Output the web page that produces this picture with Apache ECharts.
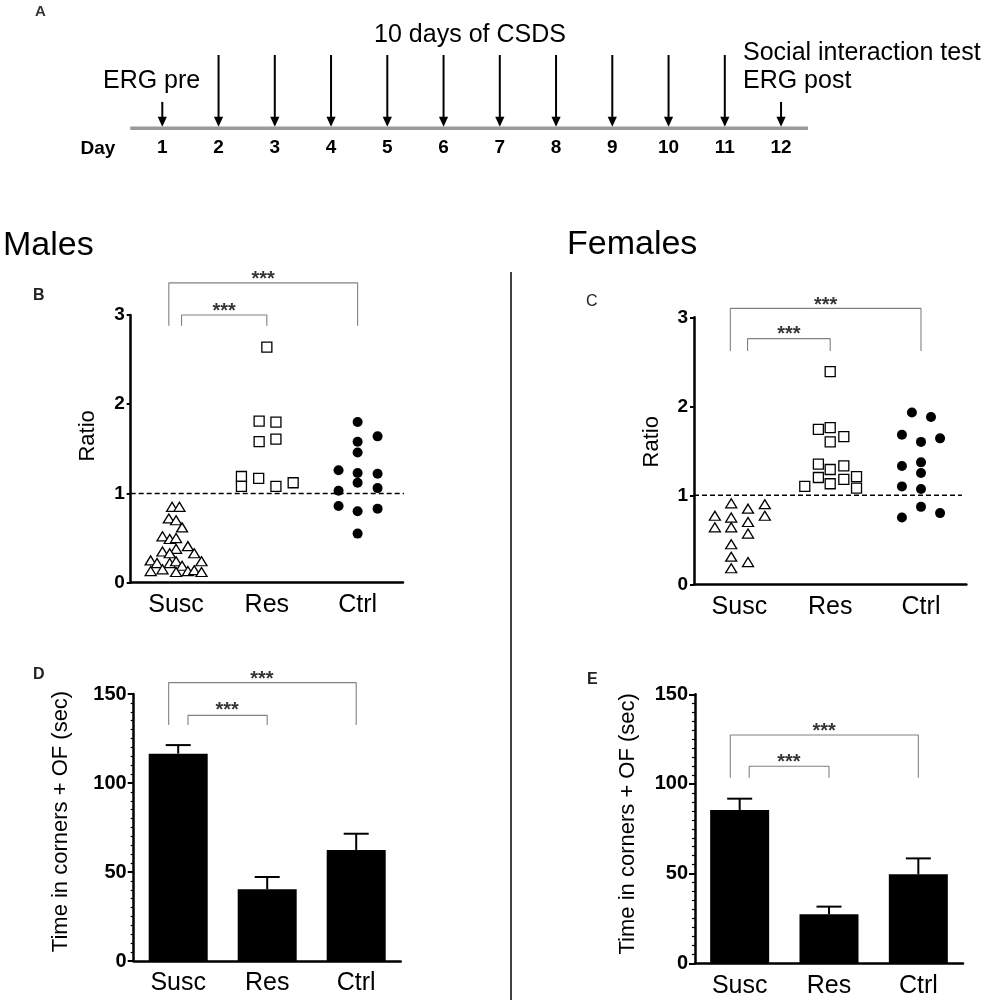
<!DOCTYPE html>
<html>
<head>
<meta charset="utf-8">
<script src="https://cdn.jsdelivr.net/npm/echarts@6/dist/echarts.min.js"></script>
<style>html,body{margin:0;padding:0;background:#fff;}#main{width:984px;height:1000px;}</style>
</head>
<body>
<div id="main"></div>
<script>
// ---------- DATA ----------
const groups = ['Susc', 'Res', 'Ctrl'];

// Panel A timeline
const days = [1,2,3,4,5,6,7,8,9,10,11,12];
const arrowHeights = [0.36,1,1,1,1,1,1,1,1,1,1,0.36];
const timelineSpan = [0.43, 12.48];

// Panel B (Males, social interaction ratio) [category index + jitter, ratio]
const maleSusc = [[-0.044,0.85],[0.037,0.85],[-0.08,0.72],[0,0.70],[0.066,0.62],[-0.15,0.52],[-0.07,0.49],[0,0.50],[0.13,0.41],[-0.15,0.35],[0,0.38],[-0.07,0.33],[0.20,0.33],[-0.28,0.25],[-0.21,0.22],[-0.07,0.22],[0,0.24],[0.066,0.19],[0.28,0.24],[-0.28,0.13],[-0.15,0.15],[0,0.12],[0.13,0.13],[0.20,0.14],[0.28,0.12]];
const maleRes = [[1,2.64],[0.915,1.81],[1.10,1.80],[0.915,1.58],[1.10,1.61],[0.72,1.19],[0.72,1.08],[0.91,1.17],[1.10,1.08],[1.29,1.12]];
const maleCtrl = [[1.79,1.26],[1.79,1.03],[1.79,0.86],[2,1.80],[2,1.58],[2,1.46],[2,1.23],[2,1.12],[2,0.80],[2,0.55],[2.22,1.64],[2.22,1.22],[2.22,1.06],[2.22,0.83]];

// Panel C (Females)
const femSusc = [[-0.27,0.77],[-0.27,0.64],[-0.09,0.91],[-0.09,0.75],[-0.09,0.64],[-0.09,0.45],[-0.09,0.31],[-0.09,0.18],[0.095,0.85],[0.095,0.70],[0.095,0.57],[0.095,0.25],[0.28,0.90],[0.28,0.77]];
const femRes = [[1,2.39],[0.87,1.74],[1,1.76],[1.15,1.66],[1,1.60],[0.87,1.35],[1,1.29],[1.15,1.33],[0.72,1.10],[0.87,1.20],[1,1.13],[1.15,1.18],[1.29,1.21],[1.29,1.08]];
const femCtrl = [[1.79,1.68],[1.79,1.33],[1.79,1.10],[1.79,0.75],[1.90,1.93],[2,1.60],[2,1.37],[2,1.25],[2,1.07],[2,0.87],[2.11,1.88],[2.21,1.64],[2.21,0.80]];
const ratioRef = 1;

// Panel D / E bars: mean and upper error (mean + SEM), seconds
const maleTimeMean = [116.5, 40.3, 62.4];
const maleTimeUpper = [121.3, 47.2, 71.5];
const femTimeMean = [85.5, 27.3, 49.7];
const femTimeUpper = [91.8, 31.6, 58.5];

// significance brackets: [x1, x2, yTop, yBottom] and star positions [x, y]
const bracketsB = [[0.06,1,3.0,2.88],[-0.08,2,3.36,2.88]];
const starsB = [[0.53,3.09],[0.96,3.45]];
const bracketsC = [[0.09,1,2.76,2.62],[-0.10,2,3.10,2.62]];
const starsC = [[0.545,2.86],[0.95,3.19]];
const bracketsD = [[0.11,1,138,132.6],[-0.107,2,156.4,132.6]];
const starsD = [[0.55,143.3],[0.94,160.7]];
const bracketsE = [[0.107,1,109.9,103.5],[-0.105,2,127.3,103.5]];
const starsE = [[0.55,114.9],[0.945,132.3]];

// ---------- CHART ----------
const FONT = 'Liberation Sans, Arial, Helvetica, sans-serif';
const chart = echarts.init(document.getElementById('main'));

function catAxis(grid){
  return {type:'category', gridIndex:grid, data:groups, boundaryGap:true,
    axisLine:{onZero:false, lineStyle:{color:'#000', width:2.5}},
    axisTick:{alignWithLabel:true, length:6, lineStyle:{color:'#000', width:2}},
    axisLabel:{color:'#000', fontSize:25, fontFamily:FONT, margin:10},
    splitLine:{show:false}};
}
function hiddenX(grid){
  return {type:'value', gridIndex:grid, min:-0.5, max:2.5, show:false, axisLine:{onZero:false}};
}
function valAxis(grid, max, interval, name, gap, minor, padTop){
  return {type:'value', gridIndex:grid, min:0, max:max, interval:interval,
    name:name, nameLocation:'middle', nameGap:gap, nameRotate:90,
    nameTextStyle:{color:'#000', fontSize:22, fontFamily:FONT, padding:padTop},
    axisLine:{show:true, onZero:false, lineStyle:{color:'#000', width:2.5}},
    axisTick:{show:true, length:minor?6:4, lineStyle:{color:'#000', width:2}},
    minorTick:{show:!!minor, splitNumber:10, length:3, lineStyle:{color:'#000', width:1.2}},
    axisLabel:{color:'#000', fontSize:minor?20:19, fontWeight:'bold', fontFamily:FONT, margin:minor?7:6},
    splitLine:{show:false}, minorSplitLine:{show:false}};
}
function scatterSeries(data, x, y, symbol, filled, size){
  return {type:'scatter', xAxisIndex:x, yAxisIndex:y, data:data, symbol:symbol, symbolSize:size,
    itemStyle:{color: filled ? '#000' : '#fff', borderColor:'#000', borderWidth: filled ? 0 : 1.3, opacity:1},
    silent:true, z:3};
}
function bracketSeries(list, x, y){
  return list.map(b => ({type:'line', xAxisIndex:x, yAxisIndex:y, clip:false, symbol:'none', silent:true,
    data:[[b[0],b[3]],[b[0],b[2]],[b[1],b[2]],[b[1],b[3]]],
    lineStyle:{color:'#808080', width:1.1}, z:2}));
}
function starSeries(list, x, y){
  return {type:'scatter', xAxisIndex:x, yAxisIndex:y, clip:false, data:list, symbolSize:1,
    itemStyle:{color:'rgba(0,0,0,0)'}, silent:true,
    label:{show:true, position:'inside', formatter:'***', color:'#000', fontSize:20, fontWeight:'bold', fontFamily:FONT, offset:[0,5]}, z:4};
}
function refLine(x, y, x1, x2){
  return {type:'line', xAxisIndex:x, yAxisIndex:y, clip:false, symbol:'none', silent:true,
    data:[[x1,ratioRef],[x2,ratioRef]], lineStyle:{color:'#000', width:1.4, type:[5,3]}, z:2};
}
function errorSeries(means, uppers, x, y){
  return {type:'custom', xAxisIndex:x, yAxisIndex:y, silent:true, z:1,
    data: means.map((m,i)=>[i, m, uppers[i]]),
    renderItem:function(params, api){
      const p0 = api.coord([api.value(0), api.value(1)]);
      const p1 = api.coord([api.value(0), api.value(2)]);
      const hw = 12.5;
      return {type:'group', children:[
        {type:'line', shape:{x1:p0[0], y1:p0[1], x2:p1[0], y2:p1[1]}, style:{stroke:'#000', lineWidth:2}},
        {type:'line', shape:{x1:p1[0]-hw, y1:p1[1], x2:p1[0]+hw, y2:p1[1]}, style:{stroke:'#000', lineWidth:2}}
      ]};
    }};
}

const option = {
  animation:false,
  backgroundColor:'#fff',
  textStyle:{fontFamily:FONT},
  grid:[
    {left:106.05, top:55, width:731.25, height:73.3},
    {left:130.7, top:315, width:272.3, height:267.7},
    {left:694, top:317.3, width:272.4, height:267},
    {left:133.7, top:694, width:267, height:267},
    {left:695, top:694.3, width:268, height:269}
  ],
  xAxis:[
    {type:'value', gridIndex:0, min:0, max:13, interval:1,
      axisLine:{show:false}, axisTick:{show:false}, splitLine:{show:false},
      axisLabel:{color:'#000', fontSize:19, fontWeight:'bold', fontFamily:FONT, margin:10,
        formatter:v => (v>=1 && v<=12) ? String(v) : ''}},
    catAxis(1), hiddenX(1),
    catAxis(2), hiddenX(2),
    catAxis(3), hiddenX(3),
    catAxis(4), hiddenX(4)
  ],
  yAxis:[
    {type:'value', gridIndex:0, min:0, max:1, show:false},
    valAxis(1, 3, 1, 'Ratio', 32, false, [0,0,0,26]),
    valAxis(2, 3, 1, 'Ratio', 31, false, [0,0,0,18]),
    valAxis(3, 150, 50, 'Time in corners + OF (sec)', 62, true, [0,0,0,12]),
    valAxis(4, 150, 50, 'Time in corners + OF (sec)', 56, true, [0,0,0,10])
  ],
  series:[
    // Panel A
    {type:'line', xAxisIndex:0, yAxisIndex:0, symbol:'none', silent:true, clip:false,
      data:[[timelineSpan[0],0],[timelineSpan[1],0]], lineStyle:{color:'#9a9a9a', width:3.5}},
    {type:'custom', xAxisIndex:0, yAxisIndex:0, silent:true, clip:false,
      data: days.map((d,i)=>[d, arrowHeights[i]]),
      renderItem:function(params, api){
        const top = api.coord([api.value(0), api.value(1)]);
        const base = api.coord([api.value(0), 0]);
        const tipY = base[1]-1.5, hh = 10, hw = 4.6;
        return {type:'group', children:[
          {type:'line', shape:{x1:top[0], y1:top[1], x2:top[0], y2:tipY-hh+1}, style:{stroke:'#000', lineWidth:2}},
          {type:'polygon', shape:{points:[[top[0]-hw, tipY-hh],[top[0]+hw, tipY-hh],[top[0], tipY]]}, style:{fill:'#000'}}
        ]};
      }},
    // Panel B
    refLine(2, 1, -0.5, 2.58),
    scatterSeries(maleSusc, 2, 1, 'triangle', false, [11,9]),
    scatterSeries(maleRes, 2, 1, 'rect', false, 10),
    scatterSeries(maleCtrl, 2, 1, 'circle', true, 10),
    ...bracketSeries(bracketsB, 2, 1),
    starSeries(starsB, 2, 1),
    // Panel C
    refLine(4, 2, -0.5, 2.45),
    scatterSeries(femSusc, 4, 2, 'triangle', false, [11,9]),
    scatterSeries(femRes, 4, 2, 'rect', false, 10),
    scatterSeries(femCtrl, 4, 2, 'circle', true, 10),
    ...bracketSeries(bracketsC, 4, 2),
    starSeries(starsC, 4, 2),
    // Panel D
    {type:'bar', xAxisIndex:5, yAxisIndex:3, data:maleTimeMean, barWidth:59, itemStyle:{color:'#000'}, silent:true, z:2},
    errorSeries(maleTimeMean, maleTimeUpper, 5, 3),
    ...bracketSeries(bracketsD, 6, 3),
    starSeries(starsD, 6, 3),
    // Panel E
    {type:'bar', xAxisIndex:7, yAxisIndex:4, data:femTimeMean, barWidth:59, itemStyle:{color:'#000'}, silent:true, z:2},
    errorSeries(femTimeMean, femTimeUpper, 7, 4),
    ...bracketSeries(bracketsE, 8, 4),
    starSeries(starsE, 8, 4)
  ],
  graphic:[
    {type:'text', x:35, y:12, style:{text:'A', font:'bold 15px '+FONT, fill:'#333', verticalAlign:'middle'}},
    {type:'text', x:470, y:35, style:{text:'10 days of CSDS', font:'25px '+FONT, fill:'#000', align:'center', verticalAlign:'middle'}},
    {type:'text', x:103, y:81, style:{text:'ERG pre', font:'25px '+FONT, fill:'#000', verticalAlign:'middle'}},
    {type:'text', x:743, y:53.3, style:{text:'Social interaction test', font:'25px '+FONT, fill:'#000', verticalAlign:'middle'}},
    {type:'text', x:743, y:81, style:{text:'ERG post', font:'25px '+FONT, fill:'#000', verticalAlign:'middle'}},
    {type:'text', x:98, y:148.5, style:{text:'Day', font:'bold 19px '+FONT, fill:'#000', align:'center', verticalAlign:'middle'}},
    {type:'text', x:3, y:246, style:{text:'Males', font:'34px '+FONT, fill:'#000', verticalAlign:'middle'}},
    {type:'text', x:567, y:245, style:{text:'Females', font:'34px '+FONT, fill:'#000', verticalAlign:'middle'}},
    {type:'text', x:33, y:296, style:{text:'B', font:'bold 16px '+FONT, fill:'#222', verticalAlign:'middle'}},
    {type:'text', x:586, y:302, style:{text:'C', font:'16px '+FONT, fill:'#222', verticalAlign:'middle'}},
    {type:'text', x:33, y:675, style:{text:'D', font:'bold 16px '+FONT, fill:'#222', verticalAlign:'middle'}},
    {type:'text', x:587, y:680, style:{text:'E', font:'bold 16px '+FONT, fill:'#222', verticalAlign:'middle'}},
    {type:'line', shape:{x1:511, y1:272, x2:511, y2:1000}, style:{stroke:'#000', lineWidth:1.5}}
  ]
};
chart.setOption(option);
</script>
</body>
</html>
